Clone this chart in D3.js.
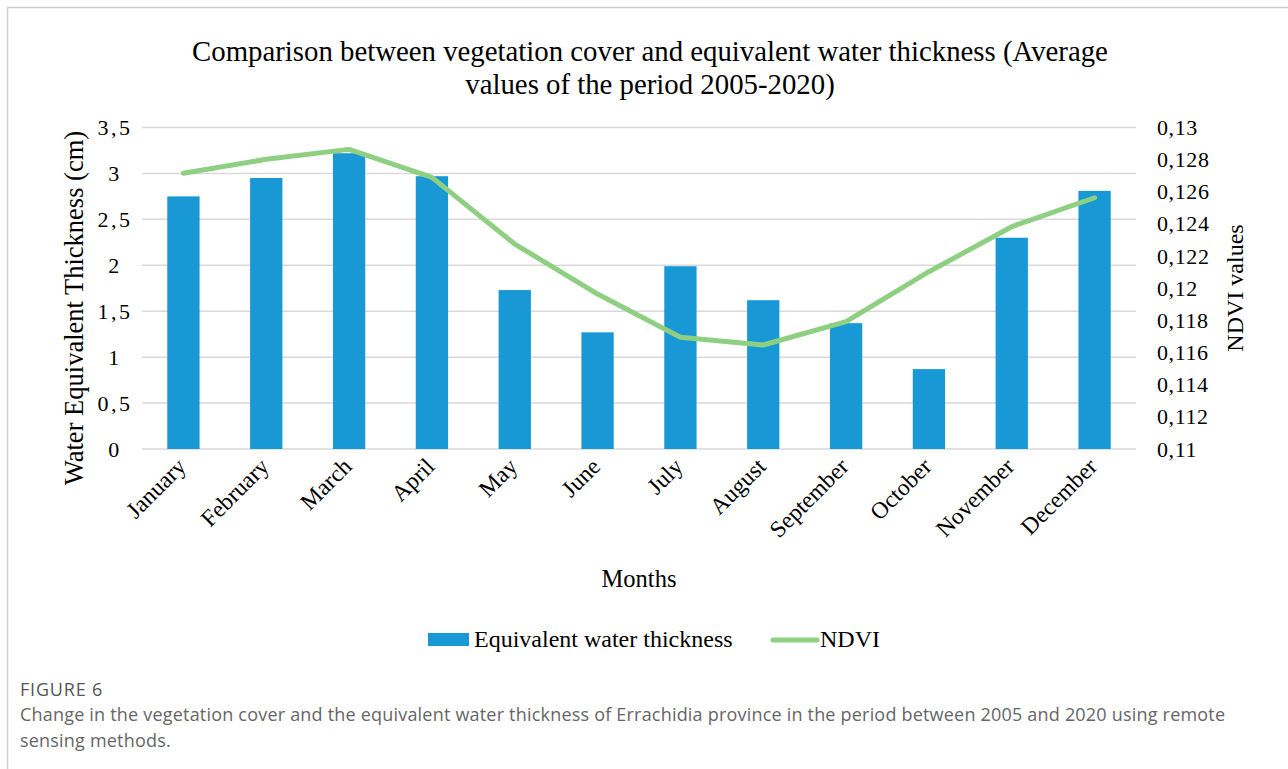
<!DOCTYPE html>
<html>
<head>
<meta charset="utf-8">
<script src="https://cdn.jsdelivr.net/npm/d3@7"></script>
<style>
  body { margin: 0; background: #fff; }
  svg { display: block; }
</style>
</head>
<body>
<svg width="1288" height="769"></svg>
<script>
const width = 1288;
const height = 769;

// data
var months = ["January", "February", "March", "April", "May", "June",
              "July", "August", "September", "October", "November", "December"];
var ewt = [2.75, 2.95, 3.22, 2.97, 1.73, 1.27, 1.99, 1.62, 1.37, 0.87, 2.30, 2.81];
var ndvi = [0.12715, 0.12802, 0.12864, 0.1269, 0.12275, 0.11964,
            0.11695, 0.11647, 0.11792, 0.12103, 0.12383, 0.12563];
var leftTicks = [0, 0.5, 1, 1.5, 2, 2.5, 3, 3.5];
var rightTicks = [0.11, 0.112, 0.114, 0.116, 0.118, 0.12, 0.122, 0.124, 0.126, 0.128, 0.13];

var serif = "'Liberation Serif', 'Times New Roman', serif";
var sans = "'Open Sans', 'Noto Sans', sans-serif";

var svg = d3.select("svg");

// frame of the figure card
svg.append("line").attr("x1", 7).attr("x2", width).attr("y1", 7.5).attr("y2", 7.5)
    .attr("stroke", "#cfcfcf").attr("stroke-width", 1.5);
svg.append("line").attr("x1", 7.5).attr("x2", 7.5).attr("y1", 7).attr("y2", height)
    .attr("stroke", "#cfcfcf").attr("stroke-width", 1.5);

var margin = { left: 142, right: 1136, top: 127.5, bottom: 449 };

var x = d3.scaleBand().domain(months).range([margin.left, margin.right]).paddingInner(0.61).paddingOuter(0.305);
var yL = d3.scaleLinear().domain([0, 3.5]).range([margin.bottom, margin.top]);
var yR = d3.scaleLinear().domain([0.11, 0.13]).range([margin.bottom, margin.top]);

// gridlines
svg.append("g").selectAll("line").data(leftTicks).join("line")
    .attr("x1", margin.left).attr("x2", margin.right)
    .attr("y1", d => yL(d)).attr("y2", d => yL(d))
    .attr("stroke", "#d9d9d9").attr("stroke-width", 1.5);

// left axis (labels sit roughly centred in Excel's output)
var axL = svg.append("g").attr("transform", "translate(" + (margin.left - 27) + ",0)")
    .call(d3.axisLeft(yL).tickValues(leftTicks).tickSize(0).tickPadding(0)
        .tickFormat(d => String(d).replace(".", ",")));
axL.select(".domain").remove();
axL.selectAll("text").attr("font-family", serif).attr("font-size", 22).attr("fill", "#000")
    .attr("text-anchor", "middle").attr("letter-spacing", 2.5).attr("dy", "0.32em");

// right axis
var axR = svg.append("g").attr("transform", "translate(" + (margin.right + 21) + ",0)")
    .call(d3.axisRight(yR).tickValues(rightTicks).tickSize(0).tickPadding(0)
        .tickFormat(d => String(+d.toFixed(3)).replace(".", ",")));
axR.select(".domain").remove();
axR.selectAll("text").attr("font-family", serif).attr("font-size", 22).attr("fill", "#000")
    .attr("letter-spacing", 0.6).attr("dy", "0.32em");

// bars
svg.append("g").selectAll("rect").data(ewt).join("rect")
    .attr("x", (d, i) => x(months[i]))
    .attr("width", x.bandwidth())
    .attr("y", d => yL(d))
    .attr("height", d => yL(0) - yL(d))
    .attr("fill", "#1899d6");

// ndvi line
var line = d3.line()
    .x((d, i) => x(months[i]) + x.bandwidth() / 2)
    .y(d => yR(d));
svg.append("path").datum(ndvi).attr("d", line)
    .attr("fill", "none").attr("stroke", "#8ecf82").attr("stroke-width", 5)
    .attr("stroke-linejoin", "round").attr("stroke-linecap", "round");

// x labels
svg.append("g").selectAll("text").data(months).join("text")
    .attr("transform", d => "translate(" + (x(d) + x.bandwidth() / 2 + 4) + ",468) rotate(-45)")
    .attr("text-anchor", "end")
    .attr("font-family", serif).attr("font-size", 23.5)
    .text(d => d);

// titles
var title = svg.append("text").attr("text-anchor", "middle")
    .attr("font-family", serif).attr("font-size", 28.8);
title.append("tspan").attr("x", 650).attr("y", 61)
    .text("Comparison between vegetation cover and equivalent water thickness (Average");
title.append("tspan").attr("x", 650).attr("y", 94)
    .text("values of the period 2005-2020)");

svg.append("text").attr("transform", "translate(83,308) rotate(-90)")
    .attr("text-anchor", "middle").attr("font-family", serif).attr("font-size", 26.5)
    .text("Water Equivalent Thickness (cm)");

svg.append("text").attr("transform", "translate(1243,288) rotate(-90)")
    .attr("text-anchor", "middle").attr("font-family", serif).attr("font-size", 24)
    .text("NDVI values");

svg.append("text").attr("x", 639).attr("y", 587)
    .attr("text-anchor", "middle").attr("font-family", serif).attr("font-size", 24.5)
    .text("Months");

// legend
var lg = svg.append("g");
lg.append("rect").attr("x", 428).attr("y", 633).attr("width", 41).attr("height", 13).attr("fill", "#1899d6");
lg.append("text").attr("x", 474).attr("y", 647).attr("font-family", serif).attr("font-size", 24)
    .text("Equivalent water thickness");
lg.append("line").attr("x1", 773).attr("x2", 817).attr("y1", 640).attr("y2", 640)
    .attr("stroke", "#8ecf82").attr("stroke-width", 5).attr("stroke-linecap", "round");
lg.append("text").attr("x", 820).attr("y", 647).attr("font-family", serif).attr("font-size", 24)
    .text("NDVI");

// caption
svg.append("text").attr("x", 20).attr("y", 696).attr("font-family", sans).attr("font-size", 18)
    .attr("letter-spacing", 0.8).attr("fill", "#555").text("FIGURE 6");
var cap = svg.append("text").attr("font-family", sans).attr("font-size", 18).attr("fill", "#666")
    .attr("letter-spacing", 0.2);
cap.append("tspan").attr("x", 20).attr("y", 721)
    .text("Change in the vegetation cover and the equivalent water thickness of Errachidia province in the period between 2005 and 2020 using remote");
cap.append("tspan").attr("x", 20).attr("y", 747).text("sensing methods.");
</script>
</body>
</html>
